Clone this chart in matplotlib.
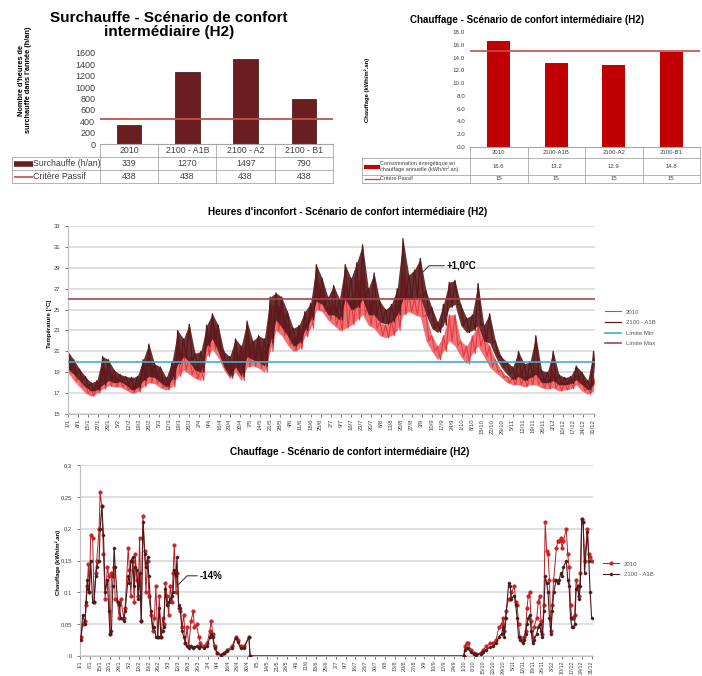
import numpy as np
import matplotlib.pyplot as plt
from matplotlib.lines import Line2D

plt.rcParams['font.family'] = ['Liberation Sans', 'DejaVu Sans']

# ---------------- data ----------------
scenarios = ['2010', '2100 - A1B', '2100 - A2', '2100 - B1']
scenarios_short = ['2010', '2100-A1B', '2100-A2', '2100-B1']
surchauffe = [339, 1270, 1497, 790]
critere_surch = [438, 438, 438, 438]
chauffage_an = [16.6, 13.2, 12.9, 14.8]
critere_chauf = [15, 15, 15, 15]

# hourly temperatures summarised as high / low every 4 days
temp_day = np.arange(0, 365, 4)
a1b_hi = [21.0, 20.2, 19.3, 18.6, 18.0, 18.2, 20.5, 20.2, 19.2, 18.8,
          18.6, 18.5, 18.6, 20.2, 21.7, 19.8, 19.5, 18.5, 20.0, 23.0,
          22.2, 23.6, 20.8, 21.0, 23.5, 24.6, 23.5, 21.0, 20.5, 22.2,
          21.5, 23.9, 22.0, 22.5, 22.2, 26.2, 26.6, 26.2, 24.8, 23.2,
          23.5, 24.8, 25.6, 29.3, 28.0, 26.2, 27.3, 26.0, 29.3, 28.0,
          29.5, 31.2, 27.0, 28.5, 25.8, 25.0, 25.5, 27.0, 31.8, 28.3,
          28.8, 29.9, 26.8, 25.2, 23.8, 25.5, 27.6, 27.8, 25.5, 24.2,
          24.5, 27.5, 23.5, 24.6, 22.0, 20.5, 20.0, 19.5, 21.0, 19.8,
          20.0, 22.5, 19.2, 19.0, 21.0, 18.8, 18.5, 18.6, 19.6, 19.0,
          18.2, 21.0]
a1b_lo = [19.3, 18.8, 18.2, 17.6, 17.2, 17.3, 17.8, 18.2, 18.0, 18.1,
          17.8, 17.3, 17.5, 18.2, 18.6, 18.5, 18.0, 17.6, 18.3, 19.8,
          20.5, 20.0, 19.2, 19.0, 21.5, 22.2, 21.0, 19.5, 18.6, 19.5,
          18.6, 20.5, 20.2, 20.0, 19.6, 21.8, 24.0, 23.3, 22.5, 21.5,
          21.8, 23.0, 24.0, 25.8, 25.5, 24.5, 24.5, 24.0, 26.0, 25.0,
          25.2, 26.0, 24.5, 24.5, 23.8, 23.6, 23.8, 24.5, 26.0, 26.0,
          26.0, 26.2, 24.5, 23.2, 22.8, 23.5, 25.2, 25.5, 23.5, 22.8,
          23.0, 23.5, 22.0, 21.8, 20.5, 19.5, 18.8, 18.3, 18.6, 18.2,
          18.5, 18.8, 18.0, 18.0, 18.2, 17.8, 17.8, 17.9, 18.3, 17.8,
          17.3, 17.8]
t2010_hi = [20.8, 19.6, 18.6, 17.8, 17.4, 17.8, 19.5, 19.2, 18.6, 18.3,
            18.0, 17.7, 18.0, 19.8, 20.5, 19.2, 18.6, 18.0, 19.2, 21.5,
            20.8, 20.5, 19.6, 19.6, 22.6, 23.8, 22.6, 20.5, 20.0, 21.0,
            20.6, 22.5, 21.2, 21.8, 21.0, 25.5, 25.5, 25.2, 23.6, 22.2,
            22.8, 23.8, 24.8, 28.0, 26.8, 25.2, 25.6, 24.5, 27.5, 26.0,
            27.5, 28.5, 25.5, 26.0, 23.8, 23.5, 24.0, 25.5, 28.5, 26.5,
            26.0, 26.5, 24.5, 22.5, 21.5, 22.5, 24.5, 24.5, 22.0, 21.5,
            22.5, 23.5, 22.5, 21.5, 20.2, 19.2, 18.6, 18.5, 19.0, 18.6,
            18.8, 19.5, 18.4, 18.3, 19.0, 18.0, 18.0, 18.2, 18.8, 18.3,
            17.6, 18.5]
t2010_lo = [19.0, 18.2, 17.6, 17.0, 16.7, 17.0, 17.4, 17.7, 17.6, 17.6,
            17.3, 17.0, 17.1, 17.6, 18.0, 17.9, 17.5, 17.3, 17.6, 18.6,
            19.2, 18.8, 18.4, 18.2, 20.5, 21.2, 20.4, 19.2, 18.4, 19.0,
            18.2, 19.5, 19.6, 19.4, 19.0, 21.0, 23.0, 22.5, 21.6, 21.0,
            21.2, 22.4, 23.2, 25.0, 24.8, 24.0, 23.5, 23.0, 23.2, 23.5,
            24.0, 24.5, 23.5, 23.2, 22.5, 22.3, 22.5, 23.0, 24.5, 24.8,
            24.5, 24.3, 22.0, 21.0, 20.2, 21.0, 22.0, 21.5, 20.5, 19.8,
            20.8, 21.5, 20.5, 19.5, 19.0, 18.5, 18.0, 17.8, 17.8, 17.6,
            17.8, 17.8, 17.5, 17.4, 17.5, 17.2, 17.3, 17.4, 17.8, 17.2,
            16.9, 17.2]
limite_min = 20
limite_max = 26

date_labels = ['1/1', '8/1', '15/1', '22/1', '29/1', '5/2', '12/2', '19/2', '26/2',
               '5/3', '12/3', '19/3', '26/3', '2/4', '9/4', '16/4', '23/4', '30/4',
               '7/5', '14/5', '21/5', '28/5', '4/6', '11/6', '18/6', '25/6',
               '2/7', '9/7', '16/7', '23/7', '30/7', '6/8', '13/8', '20/8', '27/8',
               '3/9', '10/9', '17/9', '24/9', '1/10', '8/10', '15/10', '22/10', '29/10',
               '5/11', '12/11', '19/11', '26/11', '3/12', '10/12', '17/12', '24/12', '31/12']

# daily heating (kWh/m2.an)
heat_day = [0.7, 1.9, 3.6, 4.3, 5.2, 6.0, 6.7, 7.6, 9.0, 10.0,
            11.2, 11.9, 13.6, 14.3, 15.5, 16.7, 17.9, 19.5, 20.5, 21.4,
            22.4, 23.3, 24.3, 25.0, 26.7, 27.9, 29.0, 31.0, 32.1, 34.3,
            35.2, 36.2, 37.4, 38.6, 39.3, 40.5, 41.4, 42.4, 43.6, 44.8,
            46.0, 46.9, 48.1, 49.0, 50.5, 51.7, 52.9, 54.0, 55.2, 56.4,
            57.6, 58.8, 59.5, 60.7, 61.9, 63.1, 64.3, 65.5, 66.2, 67.1,
            68.3, 69.0, 70.2, 71.4, 72.6, 73.8, 75.0, 76.2, 77.4, 79.0,
            80.5, 81.4, 82.9, 84.5, 85.7, 88.1, 90.5, 92.4, 93.3, 94.5,
            95.7, 97.6, 100.0, 102.4, 104.8, 108.3, 110.7, 112.4, 114.3, 116.7,
            120.2, 121.0,
            273.0,
            274, 275, 276, 278, 280, 282, 285, 287, 289, 292,
            294, 296, 298, 300, 301, 302, 303, 305, 306, 307,
            309, 310, 311, 312, 313, 315, 316, 317, 318, 319,
            320, 321, 322, 323, 325, 326, 327, 328, 329, 330,
            331, 332, 333, 334, 335, 336, 337, 339, 340, 341,
            342, 343, 344, 346, 347, 348, 349, 350, 351, 352,
            353, 354, 355, 356, 357, 358, 359, 361, 362, 363,
            364]
heat_2010 = [0.030, 0.050, 0.055, 0.080, 0.110, 0.145, 0.100, 0.190, 0.185, 0.085,
             0.130, 0.150, 0.200, 0.257, 0.235, 0.160, 0.090, 0.140, 0.125, 0.035,
             0.130, 0.125, 0.140, 0.090, 0.085, 0.060, 0.090, 0.060, 0.075, 0.170,
             0.135, 0.095, 0.150, 0.085, 0.160, 0.120, 0.095, 0.185, 0.055, 0.220,
             0.165, 0.100, 0.150, 0.095, 0.065, 0.040, 0.060, 0.110, 0.030, 0.095,
             0.030, 0.060, 0.050, 0.115, 0.095, 0.065, 0.110, 0.085, 0.130, 0.175,
             0.100, 0.130, 0.075, 0.070, 0.045, 0.065, 0.020, 0.045, 0.015, 0.055,
             0.070, 0.045, 0.050, 0.030, 0.020, 0.015, 0.020, 0.040, 0.055, 0.035,
             0.015, 0.005, 0.002, 0.005, 0.010, 0.015, 0.030, 0.025, 0.015, 0.015,
             0.030, 0.000,
             0.000,
             0.015, 0.020, 0.020, 0.010, 0.005, 0.003, 0.005, 0.010, 0.015, 0.020,
             0.020, 0.025, 0.045, 0.050, 0.060, 0.040, 0.070, 0.090, 0.090, 0.100,
             0.110, 0.085, 0.080, 0.050, 0.030, 0.025, 0.030, 0.040, 0.075, 0.095,
             0.100, 0.055, 0.030, 0.045, 0.060, 0.085, 0.095, 0.055, 0.035, 0.080,
             0.210, 0.165, 0.160, 0.120, 0.040, 0.080, 0.120, 0.170, 0.180, 0.180,
             0.185, 0.170, 0.180, 0.200, 0.160, 0.140, 0.080, 0.060, 0.060, 0.065,
             0.120, 0.110, 0.095, 0.130, 0.215, 0.210, 0.150, 0.200, 0.160, 0.155,
             0.150]
heat_a1b = [0.025, 0.065, 0.050, 0.085, 0.120, 0.105, 0.100, 0.150, 0.085, 0.085,
            0.125, 0.140, 0.150, 0.200, 0.235, 0.190, 0.100, 0.120, 0.070, 0.035,
            0.040, 0.110, 0.170, 0.140, 0.085, 0.080, 0.060, 0.055, 0.070, 0.125,
            0.115, 0.150, 0.155, 0.110, 0.140, 0.135, 0.090, 0.130, 0.055, 0.210,
            0.160, 0.140, 0.155, 0.125, 0.070, 0.045, 0.045, 0.030, 0.030, 0.075,
            0.030, 0.040, 0.045, 0.105, 0.080, 0.085, 0.090, 0.095, 0.100, 0.135,
            0.125, 0.155, 0.080, 0.075, 0.040, 0.030, 0.020, 0.015, 0.012, 0.015,
            0.012, 0.014, 0.015, 0.013, 0.015, 0.012, 0.015, 0.030, 0.035, 0.030,
            0.012, 0.005, 0.002, 0.004, 0.008, 0.012, 0.028, 0.022, 0.012, 0.012,
            0.030, 0.000,
            0.000,
            0.010, 0.012, 0.012, 0.006, 0.003, 0.002, 0.003, 0.006, 0.010, 0.014,
            0.015, 0.020, 0.030, 0.035, 0.045, 0.030, 0.060, 0.115, 0.110, 0.090,
            0.095, 0.080, 0.060, 0.030, 0.025, 0.020, 0.025, 0.035, 0.050, 0.060,
            0.065, 0.040, 0.020, 0.025, 0.035, 0.045, 0.050, 0.040, 0.030, 0.070,
            0.125, 0.115, 0.100, 0.060, 0.035, 0.070, 0.100, 0.120, 0.115, 0.120,
            0.130, 0.125, 0.140, 0.150, 0.120, 0.110, 0.060, 0.045, 0.045, 0.050,
            0.105, 0.110, 0.090, 0.110, 0.215, 0.210, 0.130, 0.195, 0.150, 0.100,
            0.060]

# ---------------- style ----------------
MAROON = '#6a1e1f'
RED = '#c00000'
CRIT = '#c0504d'
C2010 = '#e8383d'
CA1B = '#5a191b'
LMAX = '#a8454c'
LMIN = '#4aacc6'
GRID = '#d9d9d9'
TXT = '#404040'
TBL = '#a6a6a6'

W, H = 702, 676
fig = plt.figure(figsize=(W / 100, H / 100), dpi=100)


def fx(x):
    return x / W


def fy(y):
    return 1 - y / H


def add_axes(l, t, r, b):
    return fig.add_axes([fx(l), fy(b), (r - l) / W, (b - t) / H])


def hline(x0, x1, y, **kw):
    fig.add_artist(Line2D([fx(x0), fx(x1)], [fy(y), fy(y)], **kw))


def vline(x, y0, y1, **kw):
    fig.add_artist(Line2D([fx(x), fx(x)], [fy(y0), fy(y1)], **kw))


def data_table(left, cols, ys, header, labels, values, keys, fs, lfs):
    right = cols[-1]
    for c in cols:
        vline(c, ys[0], ys[-1], color=TBL, lw=0.6)
    vline(left, ys[1], ys[-1], color=TBL, lw=0.6)
    for y in ys[1:]:
        hline(left, right, y, color=TBL, lw=0.6)
    for i, h in enumerate(header):
        fig.text(fx((cols[i] + cols[i + 1]) / 2), fy((ys[0] + ys[1]) / 2), h,
                 ha='center', va='center', fontsize=fs, color=TXT)
    for r, (lab, vals, (kc, klw, kw)) in enumerate(zip(labels, values, keys)):
        yc = (ys[r + 1] + ys[r + 2]) / 2
        hline(left + 2, left + 2 + kw, yc, color=kc, lw=klw, solid_capstyle='butt')
        fig.text(fx(left + 2 + kw), fy(yc), lab, ha='left', va='center',
                 fontsize=lfs, color=TXT, linespacing=1.0)
        for i, v in enumerate(vals):
            fig.text(fx((cols[i] + cols[i + 1]) / 2), fy(yc), v,
                     ha='center', va='center', fontsize=fs, color=TXT)


def clean(ax, fs):
    for s in ['top', 'right']:
        ax.spines[s].set_visible(False)
    ax.tick_params(labelsize=fs, colors=TXT, length=2, width=0.5)


# ---------------- top left: surchauffe ----------------
ax1 = add_axes(100, 53, 333, 144)
x = np.arange(len(scenarios))
ax1.bar(x, surchauffe, width=0.42, color=MAROON, edgecolor='#3a0c0c', lw=0.5, zorder=2)
ax1.axhline(critere_surch[0], color=CRIT, lw=1.3, zorder=3)
ax1.set_xlim(-0.5, 3.5)
ax1.set_ylim(0, 1600)
ax1.set_yticks(range(0, 1601, 200))
ax1.set_xticks([])
clean(ax1, 6.5)
ax1.spines['left'].set_visible(False)
ax1.spines['bottom'].set_color(TBL)
ax1.tick_params(axis='y', length=0)
fig.text(fx(169), fy(25), 'Surchauffe - Scénario de confort\nintermédiaire (H2)',
         ha='center', va='center', fontsize=11, fontweight='bold', linespacing=1.05)
fig.text(fx(25), fy(80), "Nombre d'heures de\nsurchauffe dans l'année (h/an)",
         rotation=90, ha='center', va='center', fontsize=5.3, fontweight='bold',
         linespacing=1.1)
data_table(12, [100, 158.25, 216.5, 274.75, 333], [144, 157, 170, 183], scenarios,
           ['Surchauffe (h/an)', 'Critère Passif'],
           [[str(v) for v in surchauffe], [str(v) for v in critere_surch]],
           [(MAROON, 4, 19), (CRIT, 1.2, 19)], 6.3, 6.3)

# ---------------- top right: chauffage annuel ----------------
ax2 = add_axes(470, 32, 700, 147)
ax2.bar(x, chauffage_an, width=0.4, color=RED, zorder=2)
ax2.axhline(critere_chauf[0], color=CRIT, lw=1.2, zorder=3)
ax2.set_xlim(-0.5, 3.5)
ax2.set_ylim(0, 18)
ax2.set_yticks(np.arange(0, 18.1, 2))
ax2.set_yticklabels([f'{v:.1f}' for v in np.arange(0, 18.1, 2)])
ax2.set_xticks([])
clean(ax2, 4.5)
ax2.spines['left'].set_visible(False)
ax2.spines['bottom'].set_color(TBL)
ax2.tick_params(axis='y', length=0)
fig.text(fx(527), fy(20), 'Chauffage - Scénario de confort intermédiaire (H2)',
         ha='center', va='center', fontsize=7, fontweight='bold')
fig.text(fx(367), fy(90), 'Chauffage (kWh/m².an)', rotation=90, ha='center',
         va='center', fontsize=4.2, fontweight='bold')
data_table(362, [470, 527.5, 585, 642.5, 700], [147, 158, 175, 183], scenarios_short,
           ['Consommation énergétique en\nchauffage annuelle (kWh/m².an)', 'Critère Passif'],
           [[f'{v:.1f}' for v in chauffage_an], [str(v) for v in critere_chauf]],
           [(RED, 3, 16), (CRIT, 1.0, 16)], 4.3, 4.0)

# ---------------- middle: temperatures ----------------
ax3 = add_axes(68, 226, 595, 414)


def band(ax, hi, lo, color, lw, alpha, label):
    xs = np.column_stack([temp_day, temp_day + 2]).ravel()
    ys = np.column_stack([hi, lo]).ravel()
    ax.fill_between(temp_day, lo, hi, color=color, lw=0, alpha=alpha, zorder=2)
    ax.plot(xs, ys, color=color, lw=lw, zorder=2, label=label)


band(ax3, t2010_hi, t2010_lo, C2010, 0.8, 0.7, '2010')
band(ax3, a1b_hi, a1b_lo, CA1B, 0.9, 0.9, '2100 - A1B')
ax3.axhline(limite_min, color=LMIN, lw=1.2, zorder=3, label='Limite Min')
ax3.axhline(limite_max, color=LMAX, lw=1.2, zorder=3, label='Limite Max')
ax3.set_xlim(0, 365)
ax3.set_ylim(15, 33)
ax3.set_yticks(range(15, 34, 2))
ax3.set_xticks(np.arange(0, 365, 7))
ax3.set_xticklabels(date_labels, rotation=90)
ax3.grid(axis='y', color=GRID, lw=1.2, zorder=0)
clean(ax3, 4.2)
ax3.tick_params(axis='x', pad=1.5)
for s in ['left', 'bottom']:
    ax3.spines[s].set_color('#bfbfbf')
ax3.annotate('+1,0°C', xy=(245.8, 28.6), xytext=(262.5, 29.2), fontsize=7,
             fontweight='bold', va='center', ha='left',
             arrowprops=dict(arrowstyle='-', color='#404040', lw=0.8, relpos=(0, 0.5),
                             shrinkA=0, shrinkB=0,
                             connectionstyle='angle,angleA=0,angleB=45,rad=0'))
fig.text(fx(50), fy(324), 'Température [°C]', rotation=90, ha='center', va='center',
         fontsize=4.3, fontweight='bold')
fig.text(fx(348), fy(212), "Heures d'inconfort - Scénario de confort intermédiaire (H2)",
         ha='center', va='center', fontsize=7.2, fontweight='bold')
ax3.legend(loc='upper left', bbox_to_anchor=(fx(600), fy(304)),
           bbox_transform=fig.transFigure, frameon=False, fontsize=4.3,
           handlelength=2.6, labelspacing=0.9, labelcolor='#595959')

# ---------------- bottom: daily heating ----------------
ax4 = add_axes(80, 465, 593, 656)
ax4.plot(heat_day, heat_2010, color='#b52025', lw=0.7, marker='o', ms=2.6,
         mfc='#d41f24', mec='#b01a1f', mew=0.3, zorder=3, label='2010')
ax4.plot(heat_day, heat_a1b, color='#4a1a1c', lw=0.8, marker='D', ms=1.3,
         zorder=4, label='2100 - A1B')
ax4.set_xlim(0, 365)
ax4.set_ylim(0, 0.3)
yt = np.arange(0, 0.301, 0.05)
ax4.set_yticks(yt)
ax4.set_yticklabels(['0', '0,05', '0,1', '0,15', '0,2', '0,25', '0,3'])
ax4.set_xticks(np.arange(0, 365, 7))
ax4.set_xticklabels(date_labels, rotation=90)
ax4.grid(axis='y', color=GRID, lw=1.2, zorder=0)
clean(ax4, 4.2)
ax4.tick_params(axis='x', pad=1, labelsize=3.9)
for s in ['left', 'bottom']:
    ax4.spines[s].set_color('#bfbfbf')
ax4.annotate('-14%', xy=(69, 0.110), xytext=(85.4, 0.126), fontsize=7,
             fontweight='bold', va='center', ha='left',
             arrowprops=dict(arrowstyle='-', color='#404040', lw=0.8, relpos=(0, 0.5),
                             shrinkA=0, shrinkB=0,
                             connectionstyle='angle,angleA=0,angleB=45,rad=0'))
fig.text(fx(58), fy(562), 'Chauffage (kWh/m².an)', rotation=90, ha='center',
         va='center', fontsize=4.3, fontweight='bold')
fig.text(fx(350), fy(452), 'Chauffage - Scénario de confort intermédiaire (H2)',
         ha='center', va='center', fontsize=7.2, fontweight='bold')
ax4.legend(loc='upper left', bbox_to_anchor=(fx(598), fy(556)),
           bbox_transform=fig.transFigure, frameon=False, fontsize=4.3,
           handlelength=2.6, labelspacing=0.9, labelcolor='#595959')

fig.savefig('out.png', dpi=100)
